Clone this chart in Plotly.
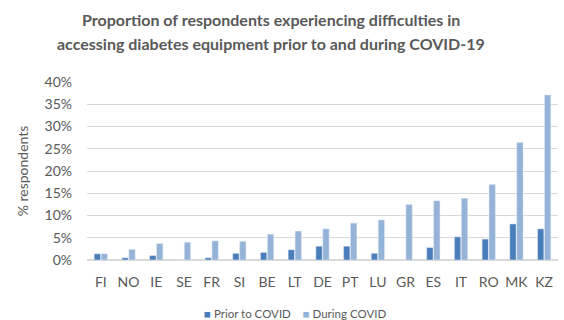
import plotly.graph_objects as go

countries = ["FI", "NO", "IE", "SE", "FR", "SI", "BE", "LT", "DE", "PT",
             "LU", "GR", "ES", "IT", "RO", "MK", "KZ"]
prior_covid = [1.4, 0.5, 1.0, 0.0, 0.5, 1.5, 1.7, 2.3, 3.1, 3.1,
               1.5, 0.0, 2.8, 5.2, 4.7, 8.1, 7.0]
during_covid = [1.4, 2.4, 3.7, 4.0, 4.3, 4.2, 5.8, 6.5, 7.0, 8.3,
                9.0, 12.5, 13.3, 13.9, 17.0, 26.4, 37.1]
y_ticks = [0, 5, 10, 15, 20, 25, 30, 35, 40]
title_lines = ["Proportion of respondents experiencing difficulties in",
               "accessing diabetes equipment prior to and during COVID-19"]

FONT = "Lato, 'Open Sans', sans-serif"
GREY = "#595959"
C_PRIOR = "#4a7ebb"
C_DURING = "#95b3d7"

fig = go.Figure()
fig.add_trace(go.Bar(name="Prior to COVID", x=countries, y=prior_covid,
                     marker_color=C_PRIOR))
fig.add_trace(go.Bar(name="During COVID", x=countries, y=during_covid,
                     marker_color=C_DURING))

annotations = []
# two-line bold title, placed line by line
for line, ypx in zip(title_lines, [19, 43]):
    annotations.append(dict(
        text=f"<b>{line}</b>", xref="paper", yref="paper",
        x=(271 - 87) / 471, xanchor="center",
        y=1 + (82 - ypx) / 178, yanchor="middle",
        showarrow=False, font=dict(family=FONT, size=16, color=GREY)))

# compact legend row under the axis
annotations.append(dict(
    text=(f"<span style='color:{C_PRIOR}'>■</span> Prior to COVID"
          f"&nbsp;&nbsp;&nbsp;&nbsp;<span style='color:{C_DURING}'>■</span> During COVID"),
    xref="paper", yref="paper", x=(295 - 87) / 471, xanchor="center",
    y=-(313 - 260) / 178, yanchor="middle", showarrow=False,
    font=dict(family=FONT, size=11.5, color=GREY)))

fig.update_layout(
    width=564, height=320,
    margin=dict(l=87, r=6, t=82, b=60, autoexpand=False),
    paper_bgcolor="white", plot_bgcolor="white",
    barmode="group", bargap=0.5, bargroupgap=0.08,
    font=dict(family=FONT, color=GREY, size=14),
    showlegend=False,
    annotations=annotations,
)
fig.update_xaxes(showgrid=False, showline=False, ticks="",
                 ticklabelstandoff=12,
                 tickfont=dict(size=14, color=GREY))
fig.update_yaxes(range=[0, 40], tickvals=y_ticks,
                 ticktext=[f"{v}%" for v in y_ticks],
                 showgrid=True, gridcolor="#d9d9d9", gridwidth=1,
                 zeroline=True, zerolinecolor="#d9d9d9",
                 ticklabelstandoff=14,
                 tickfont=dict(size=14, color=GREY),
                 title=dict(text="% respondents", font=dict(size=14, color=GREY),
                            standoff=12))

fig.write_html("out.html")
